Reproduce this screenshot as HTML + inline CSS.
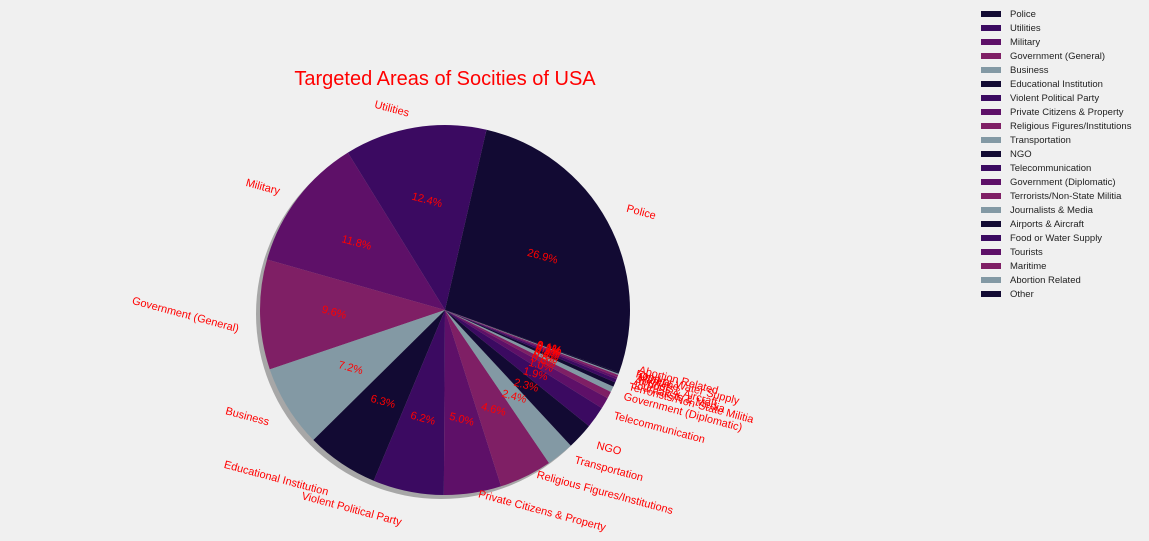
<!DOCTYPE html>
<html><head><meta charset="utf-8"><style>
body{margin:0;background:#f0f0f0;}
svg{display:block;font-family:"Liberation Sans",Arial,sans-serif;}
</style></head><body>
<svg id="c" width="1149" height="541">
<text x="445" y="85" text-anchor="middle" font-size="20" fill="#ff0000">Targeted Areas of Socities of USA</text>
<g id="shadow"></g><g id="pie"></g><g id="labels"></g><g id="legend"></g>
</svg>
<script>
const categories=["Police","Utilities","Military","Government (General)","Business","Educational Institution","Violent Political Party","Private Citizens & Property","Religious Figures/Institutions","Transportation","NGO","Telecommunication","Government (Diplomatic)","Terrorists/Non-State Militia","Journalists & Media","Airports & Aircraft","Food or Water Supply","Tourists","Maritime","Abortion Related","Other"];
const values=[26.9,12.4,11.8,9.6,7.2,6.3,6.2,5.0,4.6,2.4,2.3,1.9,1.0,0.6,0.5,0.4,0.3,0.2,0.2,0.1,0.1];
const palette=["#120a33","#3b0a61","#5e1068","#7f1f65","#8399a4"];
const NS="http://www.w3.org/2000/svg";
const cx=445,cy=310,R=185,start=-19.8;
const total=values.reduce((a,b)=>a+b,0);
const S15=Math.sin(15*Math.PI/180);
function mk(tag,attrs,parent){const e=document.createElementNS(NS,tag);for(const k in attrs)e.setAttribute(k,attrs[k]);parent.appendChild(e);return e;}
function pt(r,deg){const a=deg*Math.PI/180;return [cx+r*Math.cos(a),cy-r*Math.sin(a)];}
const sh=document.getElementById('shadow'),pie=document.getElementById('pie'),lab=document.getElementById('labels'),leg=document.getElementById('legend');
const s=mk('circle',{cx:cx-4,cy:cy+4,r:R,fill:'#777',opacity:0.6},sh);


let ang=start;
values.forEach((v,i)=>{
  const sweep=v/total*360,a2=ang+sweep,mid=ang+sweep/2;
  const p1=pt(R,ang),p2=pt(R,a2);
  const large=sweep>180?1:0;
  const w=mk('path',{d:`M${cx},${cy}L${p1[0]},${p1[1]}A${R},${R} 0 ${large} 0 ${p2[0]},${p2[1]}Z`,fill:palette[i%5]},pie);
  
  
  const lp=pt(R*1.1,mid);
  const right=lp[0]>=cx;
  const t=mk('text',{x:lp[0],y:lp[1],'text-anchor':right?'start':'end','dominant-baseline':'central','font-size':11,fill:'#ff0000'},lab);
  t.textContent=categories[i];
  
  
  const tw=t.getComputedTextLength();
  const dy=(right?-1:1)*tw*S15/2;
  const ax=lp[0]+(right?3:-3), ay=lp[1]+dy;
  t.setAttribute('x',ax);t.setAttribute('y',ay);
  t.setAttribute('transform',`rotate(15 ${ax} ${ay})`);
  const pp=pt(R*0.6,mid);
  const pc=mk('text',{x:pp[0],y:pp[1],'text-anchor':'middle','dominant-baseline':'central','font-size':11,fill:'#ff0000',transform:`rotate(15 ${pp[0]} ${pp[1]})`},lab);
  pc.textContent=v.toFixed(1)+'%';
  
  
  ang=a2;
  const y=14+i*14;
  const r=mk('rect',{x:981,y:y-3,width:20,height:6,fill:palette[i%5]},leg);
  
  
  const lt=mk('text',{x:1010,y:y+0.5,'dominant-baseline':'central','font-size':9.5,fill:'#222'},leg);
  lt.textContent=categories[i];
  
  
});
</script>
</body></html>
